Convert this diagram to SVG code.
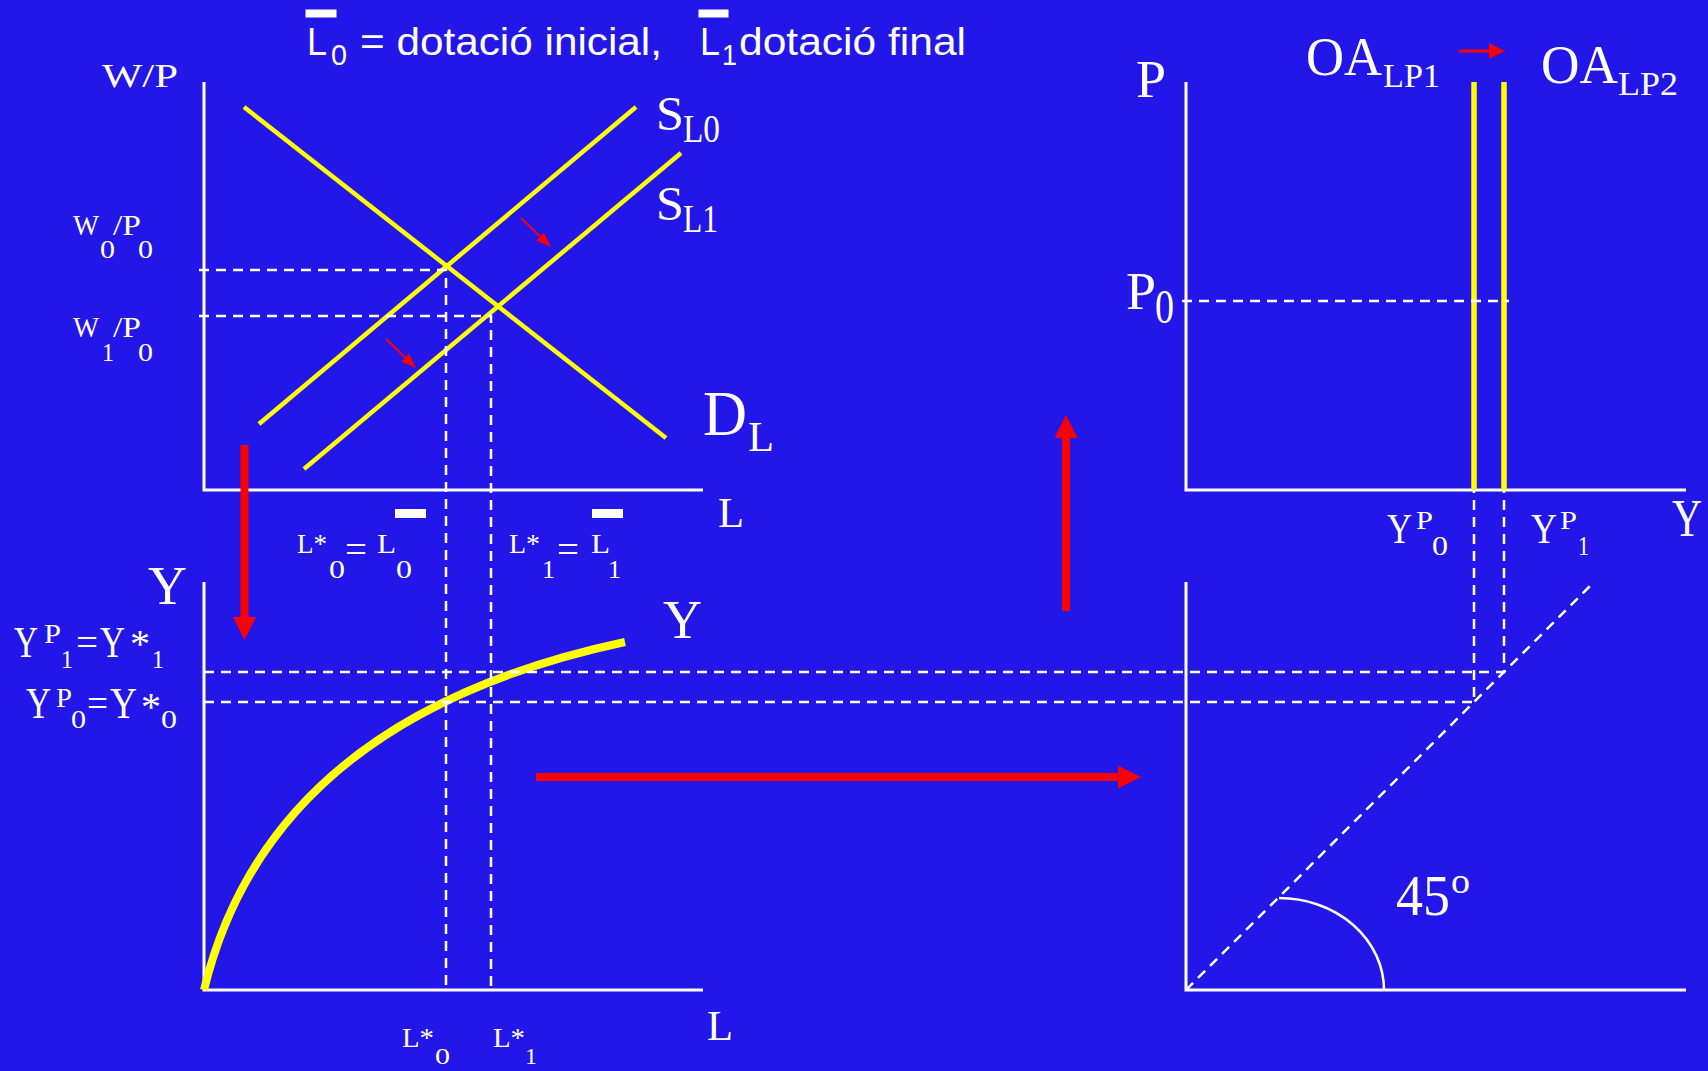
<svg xmlns="http://www.w3.org/2000/svg" width="1708" height="1071" viewBox="0 0 1708 1071">
<style>
.s{font-family:"Liberation Serif","Times New Roman",serif;fill:#fff}
.a{font-family:"Liberation Sans",Arial,sans-serif;fill:#fff}
.ax{stroke:#fff;stroke-width:3;fill:none}
.d{stroke:#fff;stroke-width:2.5;stroke-dasharray:10 7;fill:none}
.y{stroke:#ffff00;stroke-width:4.5;fill:none}
.r{stroke:#ff0000;fill:none}
.bar{fill:#fff}
</style>
<defs>
<marker id="hb" markerUnits="userSpaceOnUse" markerWidth="24" markerHeight="24" refX="0" refY="11.5" orient="auto"><path d="M0,0 L23,11.5 L0,23 z" fill="#ff0000"/></marker>
<marker id="hs" markerUnits="userSpaceOnUse" markerWidth="16" markerHeight="12" refX="0" refY="5.5" orient="auto"><path d="M0,0 L15,5.5 L0,11 z" fill="#ff0000"/></marker>
<marker id="hm" markerUnits="userSpaceOnUse" markerWidth="17" markerHeight="17" refX="0" refY="8" orient="auto"><path d="M0,0 L16,8 L0,16 z" fill="#ff0000"/></marker>
</defs>
<rect x="0" y="0" width="1708" height="1071" fill="#2316E8"/>

<g id="title">
<rect class="bar" x="305.5" y="9.5" width="31" height="8"/>
<text class="a" x="307" y="55" font-size="38" textLength="20" lengthAdjust="spacingAndGlyphs">L</text>
<text class="a" x="331" y="65" font-size="30" textLength="16" lengthAdjust="spacingAndGlyphs">0</text>
<text class="a" x="360" y="55" font-size="38" textLength="302" lengthAdjust="spacingAndGlyphs">= dotació inicial,</text>
<rect class="bar" x="698.5" y="9.5" width="30" height="8"/>
<text class="a" x="700" y="55" font-size="38" textLength="20" lengthAdjust="spacingAndGlyphs">L</text>
<text class="a" x="722" y="65" font-size="30" textLength="15" lengthAdjust="spacingAndGlyphs">1</text>
<text class="a" x="739" y="55" font-size="38" textLength="227" lengthAdjust="spacingAndGlyphs">dotació final</text>
</g>

<g id="labor-market">
<path class="ax" d="M204,82 V490 H703"/>
<text class="s" x="102" y="87" font-size="33" textLength="76" lengthAdjust="spacingAndGlyphs">W/P</text>
<text class="s" x="718" y="527" font-size="42" textLength="26" lengthAdjust="spacingAndGlyphs">L</text>
</g>

<g id="demand-DL">
<line class="y" x1="244" y1="107" x2="666" y2="438"/>
<text class="s" x="703" y="435" font-size="63" textLength="44" lengthAdjust="spacingAndGlyphs">D</text>
<text class="s" x="748" y="451" font-size="42" textLength="26" lengthAdjust="spacingAndGlyphs">L</text>
</g>

<g id="supply-SL0">
<line class="y" x1="636" y1="107" x2="259" y2="424"/>
<text class="s" x="656" y="130" font-size="48" textLength="28" lengthAdjust="spacingAndGlyphs">S</text>
<text class="s" x="683" y="142" font-size="40" textLength="37" lengthAdjust="spacingAndGlyphs">L0</text>
</g>

<g id="supply-SL1">
<line class="y" x1="681" y1="153" x2="304" y2="469"/>
<text class="s" x="656" y="220" font-size="48" textLength="28" lengthAdjust="spacingAndGlyphs">S</text>
<text class="s" x="683" y="232" font-size="40" textLength="35" lengthAdjust="spacingAndGlyphs">L1</text>
</g>

<g id="label-W0P0">
<text class="s" x="73" y="235" font-size="29" textLength="26" lengthAdjust="spacingAndGlyphs">W</text>
<text class="s" x="100" y="258" font-size="26" textLength="15" lengthAdjust="spacingAndGlyphs">0</text>
<text class="s" x="113" y="235" font-size="29" textLength="28" lengthAdjust="spacingAndGlyphs">/P</text>
<text class="s" x="138" y="258" font-size="26" textLength="15" lengthAdjust="spacingAndGlyphs">0</text>
</g>

<g id="label-W1P0">
<text class="s" x="73" y="337" font-size="29" textLength="26" lengthAdjust="spacingAndGlyphs">W</text>
<text class="s" x="102" y="361" font-size="26" textLength="12" lengthAdjust="spacingAndGlyphs">1</text>
<text class="s" x="113" y="337" font-size="29" textLength="28" lengthAdjust="spacingAndGlyphs">/P</text>
<text class="s" x="138" y="361" font-size="26" textLength="15" lengthAdjust="spacingAndGlyphs">0</text>
</g>

<g id="label-L0">
<rect class="bar" x="395" y="509" width="31" height="9"/>
<text class="s" x="297" y="553" font-size="27" textLength="30" lengthAdjust="spacingAndGlyphs">L*</text>
<text class="s" x="329" y="578" font-size="26" textLength="16" lengthAdjust="spacingAndGlyphs">0</text>
<text class="s" x="345" y="563" font-size="40" textLength="22" lengthAdjust="spacingAndGlyphs">=</text>
<text class="s" x="377" y="553" font-size="27" textLength="19" lengthAdjust="spacingAndGlyphs">L</text>
<text class="s" x="396" y="578" font-size="26" textLength="16" lengthAdjust="spacingAndGlyphs">0</text>
</g>

<g id="label-L1">
<rect class="bar" x="592" y="509" width="31" height="9"/>
<text class="s" x="509" y="553" font-size="27" textLength="31" lengthAdjust="spacingAndGlyphs">L*</text>
<text class="s" x="542" y="578" font-size="26" textLength="13" lengthAdjust="spacingAndGlyphs">1</text>
<text class="s" x="557" y="563" font-size="40" textLength="22" lengthAdjust="spacingAndGlyphs">=</text>
<text class="s" x="591" y="553" font-size="27" textLength="19" lengthAdjust="spacingAndGlyphs">L</text>
<text class="s" x="608" y="578" font-size="26" textLength="13" lengthAdjust="spacingAndGlyphs">1</text>
</g>

<g id="production">
<path class="ax" d="M204,582 V990 H703"/>
<path d="M204,990 C250,800 400,690 625,642" stroke="#ffff00" stroke-width="8" fill="none"/>
<text class="s" x="148" y="604" font-size="54" textLength="39" lengthAdjust="spacingAndGlyphs">Y</text>
<text class="s" x="663" y="638" font-size="54" textLength="39" lengthAdjust="spacingAndGlyphs">Y</text>
<text class="s" x="707" y="1040" font-size="42" textLength="26" lengthAdjust="spacingAndGlyphs">L</text>
</g>

<g id="label-Y1">
<text class="s" x="14" y="657" font-size="44" textLength="24" lengthAdjust="spacingAndGlyphs">Y</text>
<text class="s" x="44" y="643" font-size="27" textLength="17" lengthAdjust="spacingAndGlyphs">P</text>
<text class="s" x="61" y="668" font-size="26" textLength="12" lengthAdjust="spacingAndGlyphs">1</text>
<text class="s" x="76" y="656" font-size="40" textLength="22" lengthAdjust="spacingAndGlyphs">=</text>
<text class="s" x="100" y="657" font-size="44" textLength="25" lengthAdjust="spacingAndGlyphs">Y</text>
<text class="s" x="130" y="657" font-size="40" textLength="20" lengthAdjust="spacingAndGlyphs">*</text>
<text class="s" x="152" y="668" font-size="26" textLength="12" lengthAdjust="spacingAndGlyphs">1</text>
</g>

<g id="label-Y0">
<text class="s" x="26" y="718" font-size="44" textLength="25" lengthAdjust="spacingAndGlyphs">Y</text>
<text class="s" x="56" y="707" font-size="27" textLength="16" lengthAdjust="spacingAndGlyphs">P</text>
<text class="s" x="71" y="728" font-size="26" textLength="15" lengthAdjust="spacingAndGlyphs">0</text>
<text class="s" x="87" y="717" font-size="40" textLength="21" lengthAdjust="spacingAndGlyphs">=</text>
<text class="s" x="110" y="718" font-size="44" textLength="27" lengthAdjust="spacingAndGlyphs">Y</text>
<text class="s" x="141" y="720" font-size="40" textLength="20" lengthAdjust="spacingAndGlyphs">*</text>
<text class="s" x="161" y="728" font-size="26" textLength="16" lengthAdjust="spacingAndGlyphs">0</text>
</g>

<g id="label-L0-bottom">
<text class="s" x="402" y="1047" font-size="27" textLength="32" lengthAdjust="spacingAndGlyphs">L*</text>
<text class="s" x="435" y="1064" font-size="24" textLength="15" lengthAdjust="spacingAndGlyphs">0</text>
</g>
<g id="label-L1-bottom">
<text class="s" x="493" y="1047" font-size="27" textLength="32" lengthAdjust="spacingAndGlyphs">L*</text>
<text class="s" x="525" y="1064" font-size="24" textLength="12" lengthAdjust="spacingAndGlyphs">1</text>
</g>

<g id="price-output">
<path class="ax" d="M1186,82 V490 H1686"/>
<text class="s" x="1136" y="97" font-size="52" textLength="30" lengthAdjust="spacingAndGlyphs">P</text>
<text class="s" x="1126" y="309" font-size="52" textLength="30" lengthAdjust="spacingAndGlyphs">P</text>
<text class="s" x="1155" y="323" font-size="48" textLength="19" lengthAdjust="spacingAndGlyphs">0</text>
<text class="s" x="1672" y="536" font-size="52" textLength="30" lengthAdjust="spacingAndGlyphs">Y</text>
</g>

<g id="OA-LP1">
<line x1="1474" y1="82" x2="1474" y2="490" stroke="#ffff00" stroke-width="5.5"/>
<text class="s" x="1306" y="75" font-size="54" textLength="76" lengthAdjust="spacingAndGlyphs">OA</text>
<text class="s" x="1383" y="87" font-size="33" textLength="57" lengthAdjust="spacingAndGlyphs">LP1</text>
</g>
<g id="OA-LP2">
<line x1="1504" y1="82" x2="1504" y2="490" stroke="#ffff00" stroke-width="5.5"/>
<text class="s" x="1541" y="83" font-size="54" textLength="77" lengthAdjust="spacingAndGlyphs">OA</text>
<text class="s" x="1618" y="95" font-size="33" textLength="60" lengthAdjust="spacingAndGlyphs">LP2</text>
</g>

<g id="label-YP0">
<text class="s" x="1387" y="543" font-size="42" textLength="25" lengthAdjust="spacingAndGlyphs">Y</text>
<text class="s" x="1416" y="529" font-size="26" textLength="17" lengthAdjust="spacingAndGlyphs">P</text>
<text class="s" x="1432" y="555" font-size="28" textLength="16" lengthAdjust="spacingAndGlyphs">0</text>
</g>
<g id="label-YP1">
<text class="s" x="1531" y="543" font-size="42" textLength="26" lengthAdjust="spacingAndGlyphs">Y</text>
<text class="s" x="1560" y="529" font-size="26" textLength="17" lengthAdjust="spacingAndGlyphs">P</text>
<text class="s" x="1578" y="555" font-size="28" textLength="11" lengthAdjust="spacingAndGlyphs">1</text>
</g>

<g id="line-45">
<path class="ax" d="M1186,582 V990 H1686"/>
<path class="d" d="M1186,990 L1590,586"/>
<path d="M1279,898 A105,92 0 0 1 1384,990" stroke="#fff" stroke-width="2.5" fill="none"/>
<text class="s" x="1396" y="915" font-size="56" textLength="54" lengthAdjust="spacingAndGlyphs">45</text>
<text class="s" x="1451" y="893" font-size="35" textLength="19" lengthAdjust="spacingAndGlyphs">o</text>
</g>

<g id="connectors">
<path class="d" d="M199,270 H446 V990"/>
<path class="d" d="M199,316 H491 V990"/>
<path class="d" d="M204,672 H1504 V490"/>
<path class="d" d="M204,702 H1474 V490"/>
<path class="d" d="M1182,301 H1509"/>
<line class="r" stroke-width="2" x1="521" y1="218" x2="540.2" y2="236.6" marker-end="url(#hs)"/>
<line class="r" stroke-width="2" x1="386" y1="339" x2="405.2" y2="357.6" marker-end="url(#hs)"/>
<line class="r" stroke-width="3" x1="1459" y1="51" x2="1489" y2="51" marker-end="url(#hm)"/>
<line class="r" stroke-width="8" x1="244.5" y1="445" x2="244.5" y2="617" marker-end="url(#hb)"/>
<line class="r" stroke-width="8" x1="1066" y1="611" x2="1066" y2="438" marker-end="url(#hb)"/>
<line class="r" stroke-width="8" x1="536" y1="777" x2="1118" y2="777" marker-end="url(#hb)"/>
</g>
</svg>
